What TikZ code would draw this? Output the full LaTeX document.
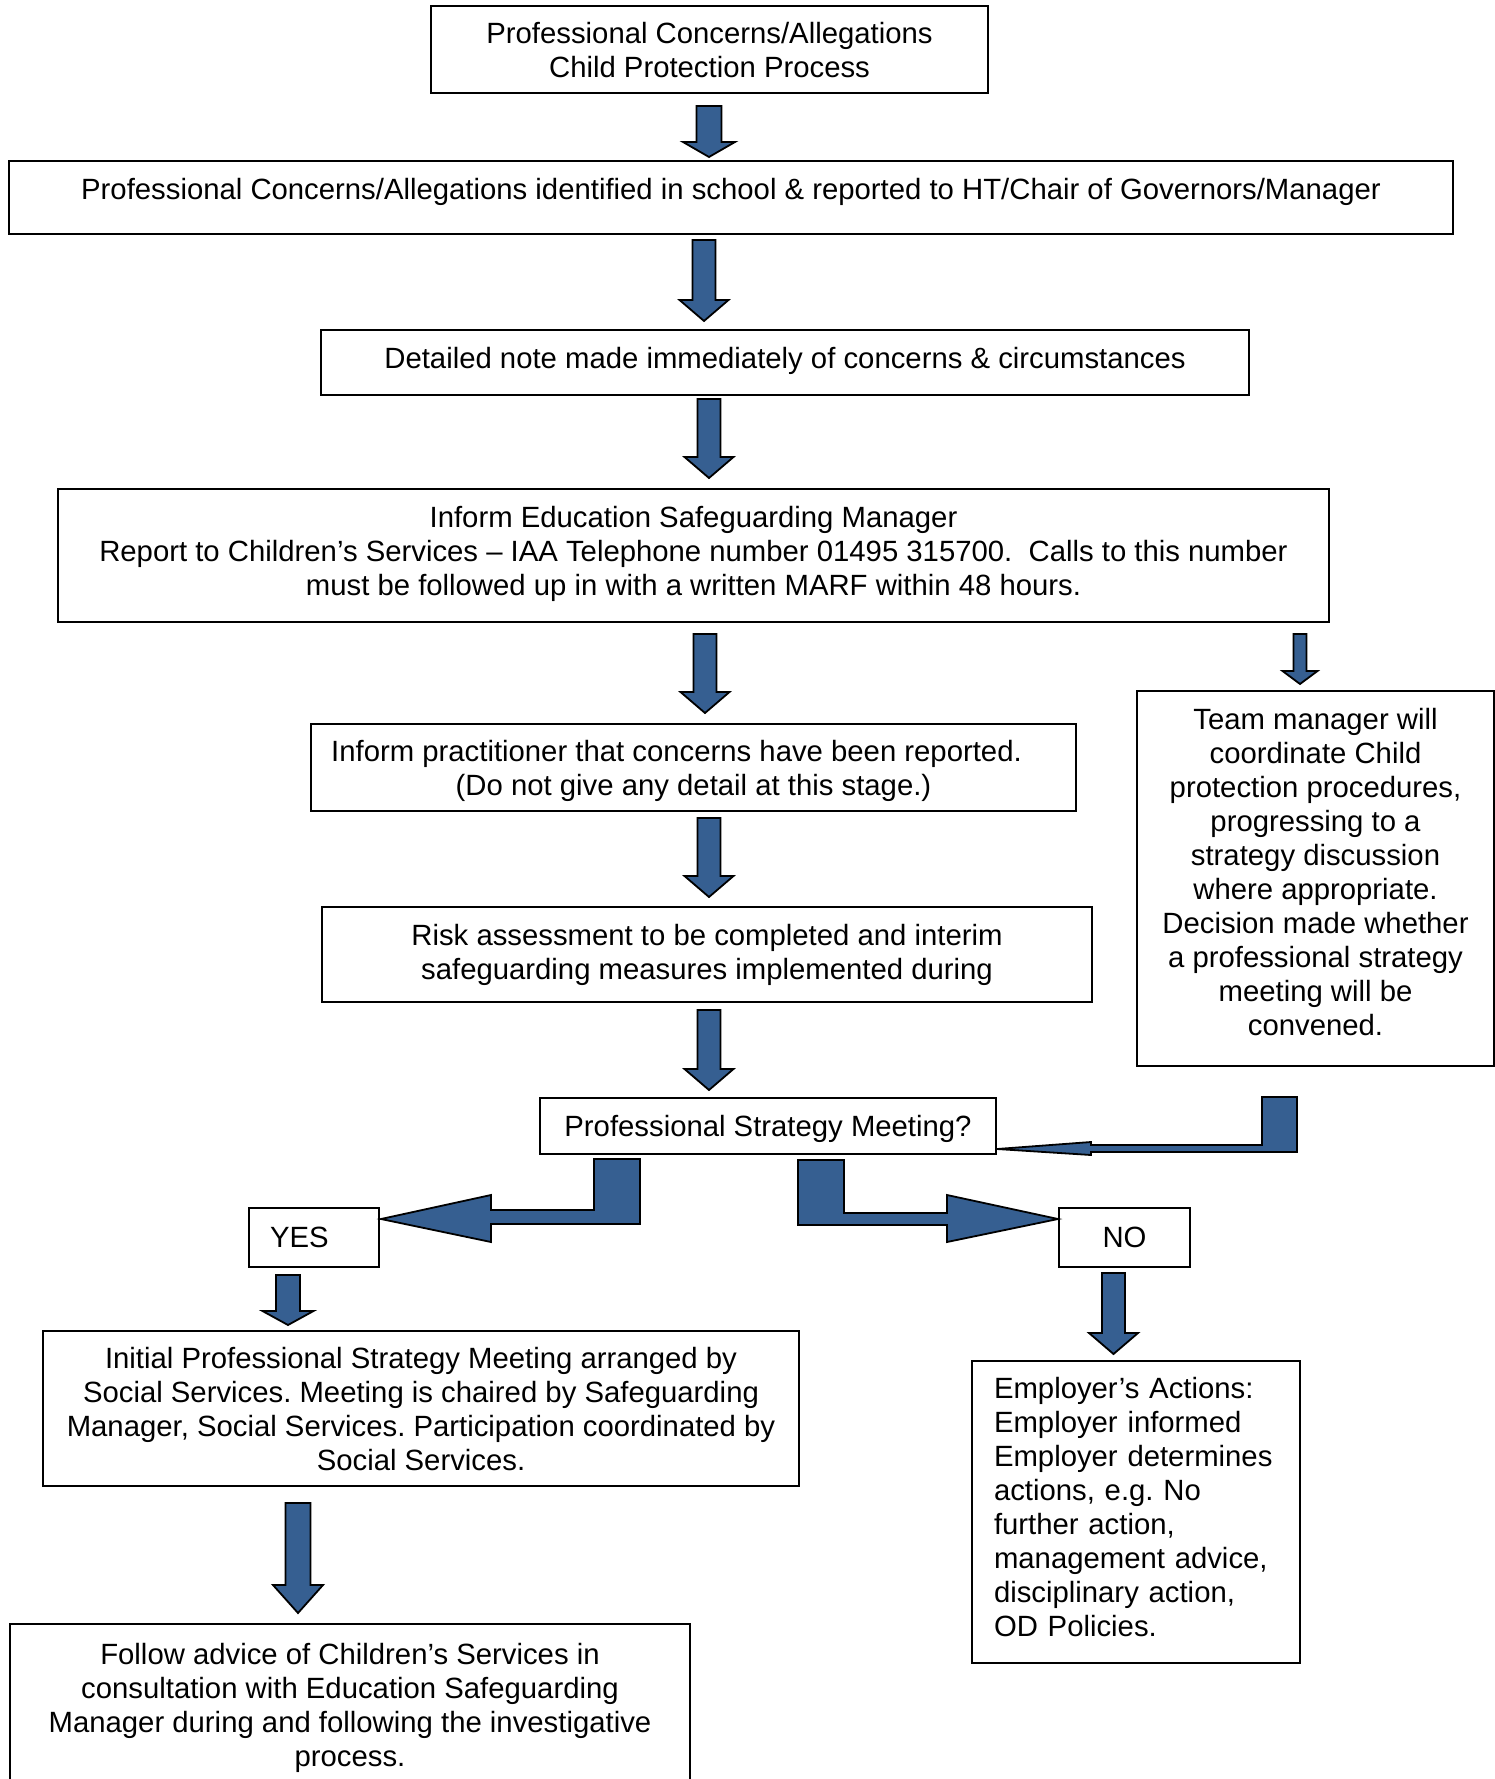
\documentclass[tikz,border=0pt]{standalone}
\usepackage{fontspec}
\setmainfont{Liberation Sans}
\usetikzlibrary{calc}
\definecolor{arrowblue}{RGB}{54,95,145}
\frenchspacing

\tikzset{
	box/.style={draw, line width=2pt, inner sep=0pt, align=center, font=\fontsize{29.3}{34}\selectfont},
	blockarrow/.style={draw=black, fill=arrowblue, line width=1.8pt}
}

\begin{document}
\begin{tikzpicture}[x=1pt,y=-1pt]
		\newcommand\blockdown[5]{%
		    \coordinate (s) at ($(#2.south -| #1,0)+(0,#4)$);
		    \coordinate (t) at ($(#3.north -| #1,0)+(0,-#5)$);
		    \draw[blockarrow] ($(s)+(-\arrsw,0)$) -- ($(s)+(\arrsw,0)$) -- ($(t)+(\arrsw,-\arrhl)$) -- ($(t)+(\arrhw,-\arrhl)$)
		        -- (t) -- ($(t)+(-\arrhw,-\arrhl)$) -- ($(t)+(-\arrsw,-\arrhl)$) -- cycle;
		}
		\newcommand\arrowsize[3]{\def\arrsw{#1}\def\arrhw{#2}\def\arrhl{#3}}

		\useasboundingbox (0,0) rectangle (1495,1779);

		% main column
		\node[box, minimum width=557pt, minimum height=87pt, text depth=-3.4pt] (title) at (709.5,49.5) {Professional Concerns/Allegations\\Child Protection Process};
		\node[box, minimum width=1444pt, minimum height=73pt, text depth=17.4pt] (report) at (731,197.5) {Professional Concerns/Allegations identified in school \& reported to HT/Chair of Governors/Manager};
		\node[box, minimum width=928pt, minimum height=65pt, text depth=9.4pt] (note) at (785,362.5) {Detailed note made immediately of concerns \& circumstances};
		\node[box, minimum width=1271pt, minimum height=133pt, text depth=8.4pt] (inform) at (693.5,555.5) {Inform Education Safeguarding Manager\\Report to Children’s Services – IAA Telephone number 01495 315700.~ Calls to this number\\must be followed up in with a written MARF within 48 hours.};
		\node[box, minimum width=765pt, minimum height=87pt, text depth=-2pt] (practitioner) at (693.5,767.5) {Inform practitioner that concerns have been reported.\hspace*{34pt}\\(Do not give any detail at this stage.)};
		\node[box, minimum width=770pt, minimum height=95pt] (risk) at (707,954.5) {Risk assessment to be completed and interim\\safeguarding measures implemented during};
		\node[box, minimum width=357pt, minimum height=375pt, text depth=14pt] (team) at (1315.5,878.5) {Team manager will\\coordinate Child\\protection procedures,\\progressing to a\\strategy discussion\\where appropriate.\\Decision made whether\\a professional strategy\\meeting will be\\convened.};
		\node[box, minimum width=456pt, minimum height=56pt, text height=28pt, text depth=6.2pt] (psm) at (768,1126) {Professional Strategy Meeting?};

		% yes / no
		\node[box, minimum width=130pt, minimum height=59pt, text width=88pt, align=left] (yes) at (314,1237.5) {YES};
		\node[box, minimum width=131pt, minimum height=59pt] (no) at (1124.5,1237.5) {NO};
		\node[box, minimum width=756pt, minimum height=155pt, text depth=-3pt] (initial) at (421,1408.5) {Initial Professional Strategy Meeting arranged by\\Social Services. Meeting is chaired by Safeguarding\\Manager, Social Services. Participation coordinated by\\Social Services.};
		\node[box, minimum width=328pt, minimum height=302pt, text width=284pt, align=left, text height=12pt] (employer) at (1136,1512) {Employer’s Actions:\\Employer informed\\Employer determines\\actions, e.g. No\\further action,\\management advice,\\disciplinary action,\\OD Policies.};
		\node[box, minimum width=680pt, minimum height=176pt, text depth=15.2pt] (follow) at (350,1712) {Follow advice of Children’s Services in\\consultation with Education Safeguarding\\Manager during and following the investigative\\process.};

		% arrows down
		\arrowsize{12.5}{26}{15}
		\blockdown{709}{title}{report}{12}{3}
		\arrowsize{11.5}{24.5}{21}
		\blockdown{704}{report}{note}{5}{8}
		\blockdown{709}{note}{inform}{3}{10}
		\blockdown{705}{inform}{practitioner}{11}{10}
		\blockdown{709}{practitioner}{risk}{6}{9}
		\blockdown{709}{risk}{psm}{7}{7}
		\blockdown{1113.5}{no}{employer}{5}{6}
		\arrowsize{6.5}{17.5}{13}
		\blockdown{1300}{inform}{team}{11}{6}
		\arrowsize{12}{25.5}{14}
		\blockdown{288}{yes}{initial}{7}{5}
		\arrowsize{12.5}{25}{28}
		\blockdown{298}{initial}{follow}{16}{10}

		% bent arrows
		\coordinate (yestip) at ($(yes.north east)+(1,12)$);
		\coordinate (notip) at ($(no.north west)+(0,12)$);
		\coordinate (teamtip) at ($(psm.south east)+(0,-6)$);
		\draw[blockarrow] (yestip) -- ++(110,-24) -- ++(0,15) -- ++(103,0) -- ++(0,-51) -- ++(46,0) -- ++(0,65) -- ++(-149,0) -- ++(0,18) -- cycle;
		\draw[blockarrow] (notip) -- ++(-111,-24) -- ++(0,18) -- ++(-103,0) -- ++(0,-53) -- ++(-46,0) -- ++(0,65) -- ++(149,0) -- ++(0,17) -- cycle;
		\draw[blockarrow] (teamtip) -- ++(94,-7) -- ++(0,3) -- ++(171,0) -- ++(0,-48) -- ++(35,0) -- ++(0,55) -- ++(-206,0) -- ++(0,3) -- cycle;
	\end{tikzpicture}
\end{document}
